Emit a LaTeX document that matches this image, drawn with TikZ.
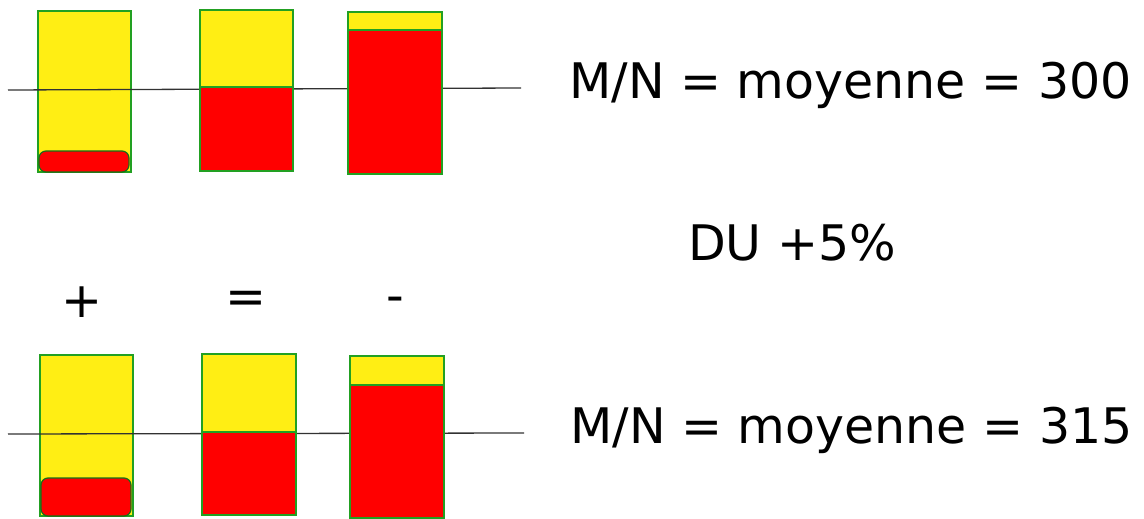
\documentclass[tikz,border=0pt]{standalone}
\usepackage{fontspec}
\setmainfont{DejaVu Sans}
\definecolor{baryellow}{RGB}{255,238,20}
\definecolor{barred}{RGB}{255,0,0}
\definecolor{bargreen}{RGB}{34,160,34}
\definecolor{axisgray}{RGB}{50,50,50}
\tikzset{
  ypart/.style={fill=baryellow,draw=bargreen,line width=1.6pt},
  rpart/.style={fill=barred,draw=bargreen,line width=1.6pt},
  rround/.style={fill=barred,draw=bargreen!70!black,line width=1.2pt,rounded corners=7pt},
  axisline/.style={draw=axisgray,line width=1.3pt},
  bigtext/.style={inner sep=0pt,anchor=base west,font=\fontsize{49}{59}\selectfont}
}
\begin{document}
\begin{tikzpicture}[x=1pt,y=1pt]
\useasboundingbox (0,0) rectangle (1144,-519);
\begin{scope}[yscale=-1]
% top row
\path[ypart] (38,11) rectangle (131,172);
\path[rround] (39,151) rectangle (129,172);
\path[axisline] (8,90) -- (521,88);
\path[ypart] (200,10) rectangle (293,87);
\path[rpart] (200,87) rectangle (293,171);
\path[ypart] (348,12) rectangle (442,30);
\path[rpart] (348,30) rectangle (442,174);
% bottom row
\path[ypart] (40,355) rectangle (133,516);
\path[rround] (41,478) rectangle (131,516);
\path[axisline] (8,434) -- (524,433);
\path[ypart] (202,354) rectangle (296,432);
\path[rpart] (202,432) rectangle (296,515);
\path[ypart] (350,356) rectangle (444,385);
\path[rpart] (350,385) rectangle (444,518);
% texts
\node[bigtext] (t1) at (569,99) {M/N = moyenne = 300};
\node[bigtext] (t2) at (688,260) {DU +5\%};
\node[bigtext] (plus) at (61,317) {+};
\node[bigtext] (eq) at (225,313) {=};
\node[bigtext] (minus) at (386,312) {-};
\node[bigtext] (t3) at (570,443) {M/N = moyenne = 315};
\end{scope}
\end{tikzpicture}
\end{document}
